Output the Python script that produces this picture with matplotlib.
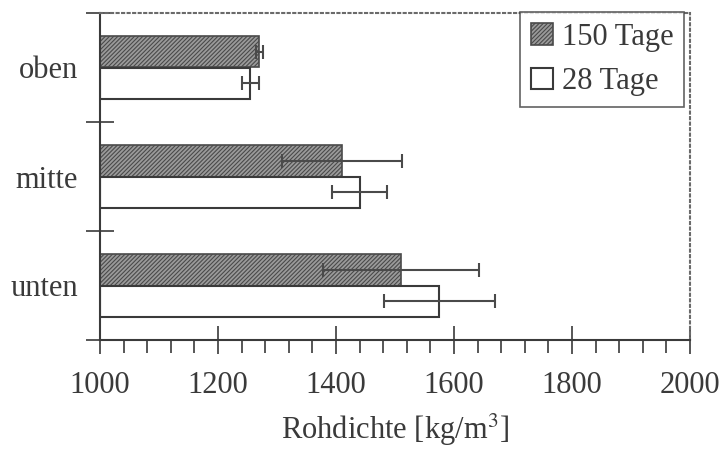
import numpy as np
import matplotlib
matplotlib.use("Agg")
import matplotlib.pyplot as plt
from matplotlib.ticker import MultipleLocator, FixedLocator, NullFormatter

plt.rcParams['font.family'] = ['Liberation Serif', 'DejaVu Serif']
plt.rcParams['mathtext.fontset'] = 'stix'
plt.rcParams['hatch.linewidth'] = 0.8

# data
positions = ['oben', 'mitte', 'unten']
tage150 = [1270, 1410, 1510]
tage150_err = [6, 102, 132]
tage28 = [1255, 1440, 1575]
tage28_err = [15, 47, 94]

ink = '#3a3a3a'

fig = plt.figure(figsize=(7.24, 4.54), dpi=100)
ax = fig.add_axes([100/724, 1-340/454, 590/724, 327/454])

y = np.arange(len(positions))
h = 0.29
ax.barh(y - h/2, np.array(tage150) - 1000, h, left=1000,
        color='#9a9a9a', edgecolor='#4a4a4a', hatch='////////', lw=1.2,
        label='150 Tage')
ax.barh(y + h/2, np.array(tage28) - 1000, h, left=1000,
        color='white', edgecolor=ink, lw=1.5, label='28 Tage')
ax.errorbar(tage150, y - h/2, xerr=tage150_err, fmt='none', ecolor='#4a4a4a',
            elinewidth=1.5, capsize=5, capthick=1.5)
ax.errorbar(tage28, y + h/2, xerr=tage28_err, fmt='none', ecolor='#4a4a4a',
            elinewidth=1.5, capsize=5, capthick=1.5)

ax.set_xlim(1000, 2000)
ax.set_ylim(2.5, -0.5)

# x axis
ax.xaxis.set_major_locator(MultipleLocator(200))
ax.xaxis.set_minor_locator(MultipleLocator(40))
ax.tick_params(axis='x', which='major', direction='inout', length=20,
               width=1.2, color=ink, labelsize=22, labelcolor=ink, pad=12)
ax.tick_params(axis='x', which='minor', direction='out', length=9,
               width=1.2, color=ink)
ax.set_xlabel('Rohdichte [kg/m$^3$]', fontsize=22, color=ink, labelpad=9)

# y axis: separator ticks, category labels in between
ax.yaxis.set_major_locator(FixedLocator([-0.5, 0.5, 1.5, 2.5]))
ax.yaxis.set_major_formatter(NullFormatter())
ax.yaxis.set_minor_locator(FixedLocator(y))
ax.set_yticks(y, positions, minor=True)
ax.tick_params(axis='y', which='major', direction='inout', length=20,
               width=1.2, color=ink)
ax.tick_params(axis='y', which='minor', length=0, labelsize=22,
               labelcolor=ink, pad=16)

for s in ['left', 'bottom']:
    ax.spines[s].set_color(ink)
    ax.spines[s].set_linewidth(1.5)
for s in ['top', 'right']:
    ax.spines[s].set_color('#6a6a6a')
    ax.spines[s].set_linewidth(1.5)
    ax.spines[s].set_linestyle(':')

leg = ax.legend(loc='upper right', bbox_to_anchor=(684/724, 1-12/454),
                bbox_transform=fig.transFigure, borderaxespad=0,
                fontsize=22, frameon=True, fancybox=False,
                handlelength=0.7, handleheight=0.7, handletextpad=0.3,
                labelspacing=0.5, borderpad=0.35)
leg.get_frame().set_edgecolor(ink)
leg.get_frame().set_linewidth(1.2)
for t in leg.get_texts():
    t.set_color(ink)

fig.savefig('out.png', dpi=100)
